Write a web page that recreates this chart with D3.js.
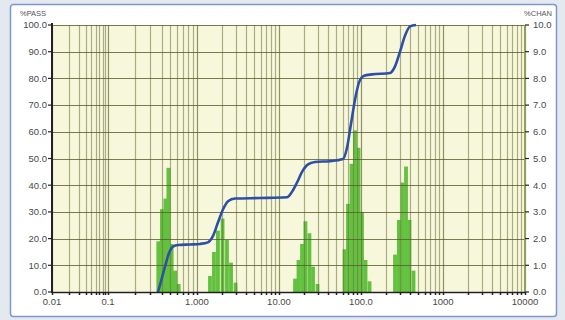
<!DOCTYPE html>
<html>
<head>
<meta charset="utf-8">
<script src="https://cdn.jsdelivr.net/npm/d3@7/dist/d3.min.js"></script>
<style>
  html, body { margin: 0; padding: 0; background: #e4e8ef; }
  svg { display: block; }
  .lbl { font-family: "Liberation Sans", Arial, sans-serif; font-size: 9.5px; fill: #4a4a4a; }
  .ttl { font-family: "Liberation Sans", Arial, sans-serif; font-size: 7.5px; fill: #555; }
</style>
</head>
<body>
<script>
// particle size distribution: %CHAN bars (right axis) + %PASS cumulative (left axis)

// x tick labels (log scale, micron)
const xTickValues = [0.01, 0.1, 1, 10, 100, 1000, 10000];
const xTickLabels = ['0.01', '0.1', '1.000', '10.00', '100.0', '1000', '10000'];

// left axis %PASS, right axis %CHAN
const passTicks = [0, 10, 20, 30, 40, 50, 60, 70, 80, 90, 100];
const chanTicks = [0, 1, 2, 3, 4, 5, 6, 7, 8, 9, 10];

// channel bars: centre size and %CHAN
const chanSizes = [
  0.369, 0.405, 0.443, 0.479, 0.517, 0.566, 0.620,
  1.44, 1.61, 1.80, 2.05, 2.32, 2.60, 2.95,
  15.7, 17.3, 19.1, 21.0, 23.5, 26.0, 29.5,
  63.0, 69.4, 76.6, 84.5, 93.3, 102.8, 113.5, 127,
  260, 290, 321, 354, 390, 437
];
const chanValues = [
  1.9, 3.1, 3.5, 4.65, 1.8, 0.8, 0.3,
  0.6, 1.5, 2.3, 2.75, 1.95, 1.1, 0.35,
  0.5, 1.2, 1.8, 2.65, 2.2, 0.95, 0.3,
  1.6, 3.3, 4.8, 6.05, 5.4, 3.0, 1.2, 0.4,
  1.4, 2.7, 4.1, 4.7, 2.7, 0.8
];

// cumulative %PASS curve
const passSizes = [
  0.365, 0.394, 0.437, 0.484, 0.537, 0.612, 0.834, 1.088,
  1.36, 1.57, 1.80, 2.08, 2.39, 2.91, 5.87,
  12.5, 14.4, 16.6, 19.1, 22.6, 27.5, 41.9,
  60.3, 67.5, 75.5, 84.5, 94.6, 109, 136,
  226, 260, 299, 344, 396, 469
];
const passValues = [
  0, 4, 9.5, 14.5, 17, 17.6, 17.8, 18.0,
  18.6, 21, 26, 31, 34, 35, 35.2,
  35.5, 37.5, 41, 45, 47.8, 48.7, 49,
  49.8, 54, 63, 72, 78.5, 81, 81.5,
  82, 84.5, 90, 96, 99.5, 100
];

const W = 565, H = 320;
const pLeft = 52, pRight = 525, pTop = 25, pBottom = 292;

const svg = d3.select('body').append('svg')
  .attr('width', W).attr('height', H);

// frame
svg.append('rect')
  .attr('x', 10.5).attr('y', 4.5).attr('width', 546).attr('height', 312)
  .attr('rx', 3)
  .attr('fill', '#ffffff').attr('stroke', '#7f97cf').attr('stroke-width', 1.5);

// the first decade is drawn narrower than the others in the original
const x = d3.scaleLog()
  .domain([0.01, 0.1, 1, 10000])
  .range([pLeft, 108, 197, pRight]);
const yPass = d3.scaleLinear().domain([0, 100]).range([pBottom, pTop]);
const yChan = d3.scaleLinear().domain([0, 10]).range([pBottom, pTop]);

// plot background
svg.append('rect')
  .attr('x', pLeft).attr('y', pTop)
  .attr('width', pRight - pLeft).attr('height', pBottom - pTop)
  .attr('fill', '#f7f7dc');

// channel bars (drawn under the grid, as in the original)
const bars = chanSizes.map((s, i) => ({ s, v: chanValues[i] }));
svg.append('g').selectAll('rect')
  .data(bars)
  .join('rect')
  .attr('x', d => x(d.s / 1.055))
  .attr('width', d => x(d.s * 1.055) - x(d.s / 1.055))
  .attr('y', d => yChan(d.v))
  .attr('height', d => yChan(0) - yChan(d.v))
  .attr('fill', '#62c23f');

// vertical grid (every minor log tick)
const minor = x.ticks();
svg.append('g').selectAll('line')
  .data(minor)
  .join('line')
  .attr('x1', d => Math.round(x(d)) + 0.5).attr('x2', d => Math.round(x(d)) + 0.5)
  .attr('y1', pTop).attr('y2', pBottom)
  .attr('stroke', '#6f6f3c')
  .attr('stroke-opacity', d => (Math.abs(Math.log10(d) % 1) < 1e-6 ? 0.75 : 0.55))
  .attr('stroke-width', 1.2);

// horizontal grid
svg.append('g').selectAll('line')
  .data(passTicks.slice(1))
  .join('line')
  .attr('x1', pLeft).attr('x2', pRight)
  .attr('y1', d => Math.round(yPass(d)) + 0.5).attr('y2', d => Math.round(yPass(d)) + 0.5)
  .attr('stroke', '#5a5a2e').attr('stroke-opacity', 0.8).attr('stroke-width', 1.2);

// right border of plot
svg.append('line')
  .attr('x1', pRight).attr('x2', pRight).attr('y1', pTop).attr('y2', pBottom)
  .attr('stroke', '#8fa05a').attr('stroke-width', 2);

// cumulative curve
const pts = passSizes.map((s, i) => [s, passValues[i]]);
svg.append('path')
  .datum(pts)
  .attr('fill', 'none')
  .attr('stroke', '#2d4fa6')
  .attr('stroke-width', 2.6)
  .attr('stroke-linejoin', 'round')
  .attr('d', d3.line()
    .x(d => x(d[0]))
    .y(d => yPass(d[1]))
    .curve(d3.curveMonotoneX));

// bottom axis
svg.append('line')
  .attr('x1', pLeft).attr('x2', pRight).attr('y1', pBottom + 0.5).attr('y2', pBottom + 0.5)
  .attr('stroke', '#222').attr('stroke-width', 1.5);
svg.append('g').selectAll('line')
  .data(minor)
  .join('line')
  .attr('x1', d => Math.round(x(d)) + 0.5).attr('x2', d => Math.round(x(d)) + 0.5)
  .attr('y1', pBottom).attr('y2', pBottom + 3)
  .attr('stroke', '#222').attr('stroke-width', 1.5);
svg.append('g').selectAll('text')
  .data(xTickValues)
  .join('text')
  .attr('class', 'lbl')
  .attr('x', d => x(d)).attr('y', pBottom + 13)
  .attr('text-anchor', 'middle')
  .text((d, i) => xTickLabels[i]);

// left axis
svg.append('line')
  .attr('x1', pLeft).attr('x2', pLeft).attr('y1', pTop - 2).attr('y2', pBottom + 1)
  .attr('stroke', '#222').attr('stroke-width', 2);
const yl = svg.append('g').selectAll('g')
  .data(passTicks)
  .join('g')
  .attr('transform', d => `translate(0,${yPass(d)})`);
yl.append('line')
  .attr('x1', pLeft - 4).attr('x2', pLeft).attr('stroke', '#222').attr('stroke-width', 1.2);
yl.append('text')
  .attr('class', 'lbl')
  .attr('x', pLeft - 5).attr('dy', '0.35em')
  .attr('text-anchor', 'end')
  .text(d => d.toFixed(1));

// right axis
const yr = svg.append('g').selectAll('g')
  .data(chanTicks)
  .join('g')
  .attr('transform', d => `translate(0,${yChan(d)})`);
yr.append('line')
  .attr('x1', pRight).attr('x2', pRight + 4).attr('stroke', '#222').attr('stroke-width', 1.2);
yr.append('text')
  .attr('class', 'lbl')
  .attr('x', pRight + 8).attr('dy', '0.35em')
  .text(d => d.toFixed(1));

// axis titles
svg.append('text').attr('class', 'ttl')
  .attr('x', 20).attr('y', 16).text('%PASS');
svg.append('text').attr('class', 'ttl')
  .attr('x', 552).attr('y', 16).attr('text-anchor', 'end').text('%CHAN');
</script>
</body>
</html>
